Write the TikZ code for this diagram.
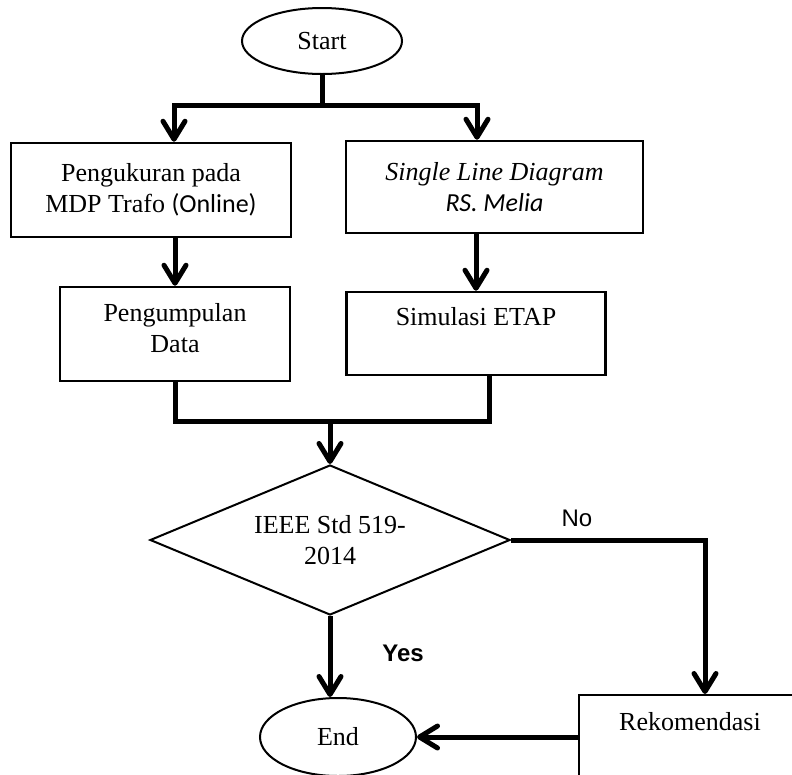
\documentclass[tikz,border=0pt]{standalone}
\usepackage{fontspec}
\setmainfont{Liberation Serif}
\newfontfamily\calfont{Carlito}
\newfontfamily\arialfont{Liberation Sans}
\usetikzlibrary{shapes.geometric,arrows.meta}
\begin{document}
\begin{tikzpicture}[x=1pt,y=-1pt,
  every node/.style={font=\fontsize{26}{31}\selectfont},
  box/.style={draw, rectangle, line width=2.5pt, inner sep=0pt, align=center},
  term/.style={draw, ellipse, line width=2pt, inner sep=0pt},
  dia/.style={draw, diamond, aspect=2.4, line width=2pt, inner sep=0pt, align=center},
  toplabel/.style={anchor=north, inner sep=0pt, font=\fontsize{26}{31}\selectfont},
  tipv/.tip={Straight Barb[length=18pt,width=22pt,round]},
  link/.style={line width=5pt, line join=miter},
  flow/.style={line width=5pt, line join=miter, -tipv},
  flowboth/.style={line width=5pt, line join=miter, tipv-tipv},
  lbl/.style={font=\arialfont\fontsize{24}{28}\selectfont, inner sep=0pt}
]
\clip (0,0) rectangle (792,774);

% nodes
\node[term, minimum width=160pt, minimum height=66pt] (start) at (322,41) {Start};
\node[box, minimum width=280pt, minimum height=94pt] (p1) at (151,190)
  {Pengukuran pada\\MDP Trafo {\calfont (Online)}};
\node[box, minimum width=297pt, minimum height=92pt] (sld) at (494.5,187)
  {\itshape Single Line Diagram\\{\calfont\itshape RS. Melia}};
\node[box, minimum width=230pt, minimum height=94pt, text depth=12pt] (p2) at (175,334)
  {Pengumpulan\\Data};
\node[box, minimum width=259pt, minimum height=83pt,
  label={[toplabel, yshift=-17pt]north:Simulasi ETAP}] (etap) at (476,333.5) {};
\node[dia, minimum width=360pt, minimum height=150pt] (dec) at (330,540)
  {IEEE Std 519-\\2014};
\node[box, line width=2pt, minimum width=222pt, minimum height=95pt,
  label={[toplabel, yshift=-18pt]north:Rekomendasi}] (rek) at (690,742.5) {};
\node[term, minimum width=156pt, minimum height=78pt] (end) at (338,737) {End};

\node[lbl] (no) at (577,518) {No};
\node[lbl, font=\arialfont\bfseries\fontsize{24}{28}\selectfont] (yes) at (403,653) {Yes};

% connector coordinates
\coordinate (tl) at (174,105);
\coordinate (tr) at (477,105);
\coordinate (ml) at (175,421);
\coordinate (mr) at (489,421);
\coordinate (mc) at (330,421);
\coordinate (nr) at (705,540);

% connectors
\draw[link] (start.south) -- (start.south |- tl);
\draw[flowboth] (tl |- p1.north) -- (tl) -- (tr) -- (tr |- sld.north);
\draw[flow] (p1.south -| p2.north) -- (p2.north);
\draw[flow] (sld.south -| etap.north) -- (etap.north);
\draw[link] (p2.south) -- (ml) -- (mr) -- (mr |- etap.south);
\draw[flow] (mc) -- (dec.north);
\draw[flow] (dec.east) -- (nr) -- (nr |- rek.north);
\draw[flow] (dec.south) -- (dec.south |- end.north);
\draw[flow] (end.east -| rek.west) -- (end.east);
\end{tikzpicture}
\end{document}
